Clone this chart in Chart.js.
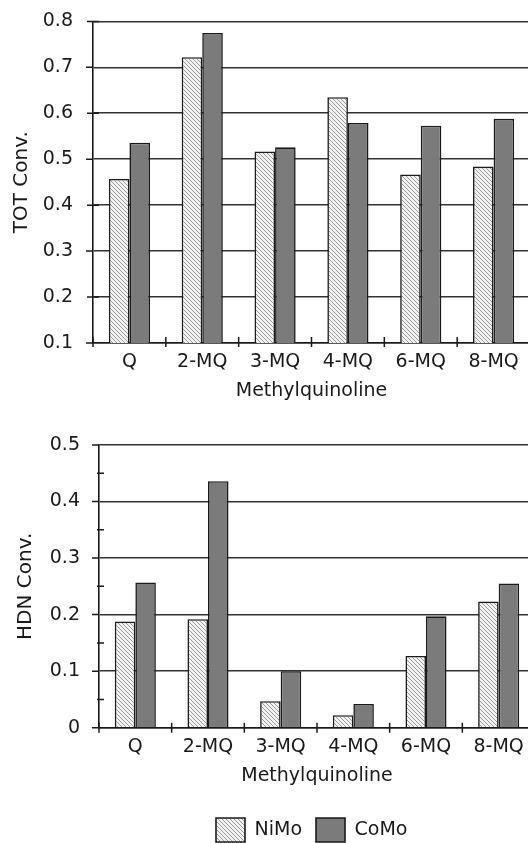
<!DOCTYPE html>
<html>
<head>
<meta charset="utf-8">
<script src="https://cdn.jsdelivr.net/npm/chart.js@4.4.1/dist/chart.umd.min.js"></script>
<style>
  html, body { margin: 0; padding: 0; width: 528px; height: 843px; overflow: hidden; background: #fff; }
  body { position: relative; }
  #c1 { position: absolute; left: 0; top: -10px; }
  #c2 { position: absolute; left: 0; top: 405px; }
</style>
</head>
<body>
<canvas id="c1" width="530" height="415"></canvas>
<canvas id="c2" width="535" height="447"></canvas>
<script>
// ---- data ----
const categories = ['Q', '2-MQ', '3-MQ', '4-MQ', '6-MQ', '8-MQ'];
const seriesNames = ['NiMo', 'CoMo'];
const totNiMo = [0.457, 0.722, 0.517, 0.635, 0.467, 0.484];
const totCoMo = [0.536, 0.775, 0.526, 0.579, 0.573, 0.588];
const hdnNiMo = [0.188, 0.192, 0.047, 0.022, 0.127, 0.223];
const hdnCoMo = [0.257, 0.436, 0.100, 0.042, 0.197, 0.255];
const totTickLabels = ['0.1', '0.2', '0.3', '0.4', '0.5', '0.6', '0.7', '0.8'];
const hdnTickLabels = ['0', '0.1', '0.2', '0.3', '0.4', '0.5'];
const xTitle = 'Methylquinoline';
const totTitle = 'TOT Conv.';
const hdnTitle = 'HDN Conv.';

// ---- styles ----
const FONT = 'DejaVu Sans';
const INK = '#1a1a1a';
const GRID = '#333333';
const CO_FILL = '#7b7b7b';

function hatch() {
  const t = document.createElement('canvas');
  t.width = 4; t.height = 4;
  const g = t.getContext('2d');
  g.fillStyle = '#f2f2f2';
  g.fillRect(0, 0, 4, 4);
  g.strokeStyle = '#9a9a9a';
  g.lineWidth = 1;
  g.beginPath();
  g.moveTo(-1, -1); g.lineTo(5, 5);
  g.moveTo(-1, 3); g.lineTo(1, 5);
  g.moveTo(3, -1); g.lineTo(5, 1);
  g.stroke();
  return g.createPattern(t, 'repeat');
}
const niPattern = hatch();

// cross ticks drawn on the axes through the library's scales
function crossTicks(cfg) {
  return {
    id: 'crossTicks',
    afterDraw(chart) {
      const ctx = chart.ctx, x = chart.scales.x, y = chart.scales.y;
      const ax = chart.chartArea.left, ay = chart.chartArea.bottom;
      ctx.save();
      ctx.strokeStyle = INK;
      ctx.lineWidth = 1.5;
      ctx.beginPath();
      y.ticks.forEach((t, i) => {
        const py = y.getPixelForValue(t.value);
        if (i % 2 === 0) { ctx.moveTo(ax - cfg.majL, py); ctx.lineTo(ax, py); }
        else { ctx.moveTo(ax - cfg.minL, py); ctx.lineTo(ax + cfg.minR, py); }
      });
      for (let i = 0; i <= categories.length; i++) {
        const px = x.getPixelForValue(i - 0.5);
        ctx.moveTo(px, ay - cfg.xUp); ctx.lineTo(px, ay + cfg.xDown);
      }
      ctx.stroke();
      ctx.restore();
    }
  };
}

function makeChart(el, o) {
  return new Chart(el, {
    type: 'bar',
    data: {
      labels: categories,
      datasets: [
        { label: seriesNames[0], data: o.a, backgroundColor: niPattern, borderColor: INK, borderWidth: 1.6 },
        { label: seriesNames[1], data: o.b, backgroundColor: CO_FILL, borderColor: INK, borderWidth: 1.6 }
      ]
    },
    options: {
      responsive: false,
      animation: false,
      devicePixelRatio: 1,
      layout: { padding: { top: o.padTop, left: 0, right: 0, bottom: 0 } },
      datasets: { bar: { categoryPercentage: 0.565, barPercentage: 1.0 } },
      plugins: {
        legend: o.legend ? {
          display: true,
          position: 'bottom',
          labels: {
            boxWidth: 29, boxHeight: 24, padding: 14,
            color: INK,
            font: { family: FONT, size: 19 }
          }
        } : { display: false },
        tooltip: { enabled: false }
      },
      scales: {
        x: {
          grid: { display: false, drawTicks: false },
          border: { display: true, color: INK, width: 1.6 },
          ticks: { color: INK, padding: 8, font: { family: FONT, size: 19 }, maxRotation: 0, autoSkip: false },
          title: { display: true, text: xTitle, color: INK, font: { family: FONT, size: 19 }, padding: { top: 0, bottom: o.xTitlePad } },
          afterFit(s) { s.height = o.xH; }
        },
        y: {
          min: o.min, max: o.max,
          ticks: {
            stepSize: 0.05,
            color: INK,
            padding: o.yPad,
            font: { family: FONT, size: 19 },
            callback: (v, i) => (i % 2 === 0 ? o.tickLabels[i / 2] : '')
          },
          grid: {
            drawTicks: false,
            color: (c) => (c.index % 2 === 0 ? GRID : 'rgba(0,0,0,0)'),
            lineWidth: 1.6
          },
          border: { display: true, color: INK, width: 1.6 },
          title: { display: true, text: o.yTitle, color: INK, font: { family: FONT, size: 20 }, padding: { top: o.yTitlePad, bottom: 0 } },
          afterFit(s) { s.width = o.yW; }
        }
      }
    },
    plugins: [crossTicks(o.ticks)].concat(o.legend ? [{
      id: 'legendShift',
      afterUpdate(chart) {
        const lg = chart.legend;
        if (!lg || !lg.legendHitBoxes || !lg.legendHitBoxes.length) return;
        const shift = o.legendLeft - lg.legendHitBoxes[0].left;
        lg.left += shift; lg.right += shift;
        lg.legendHitBoxes.forEach(h => { h.left += shift; });
      }
    }] : [])
  });
}

makeChart(document.getElementById('c1'), {
  a: totNiMo, b: totCoMo, min: 0.1, max: 0.8, tickLabels: totTickLabels,
  yTitle: totTitle, padTop: 31, xH: 62, xTitlePad: 3, yW: 93, yPad: 20, yTitlePad: 10,
  ticks: { majL: 7, minL: 6, minR: 6, xUp: 6, xDown: 4 },
  legend: false
});

makeChart(document.getElementById('c2'), {
  a: hdnNiMo, b: hdnCoMo, min: 0, max: 0.5, tickLabels: hdnTickLabels,
  yTitle: hdnTitle, padTop: 40, xH: 76.3, xTitlePad: 16.6, yW: 99, yPad: 19, yTitlePad: 14,
  ticks: { majL: 7, minL: 2, minR: 5, xUp: 5, xDown: 5 },
  legend: true, legendLeft: 216
});
</script>
</body>
</html>
